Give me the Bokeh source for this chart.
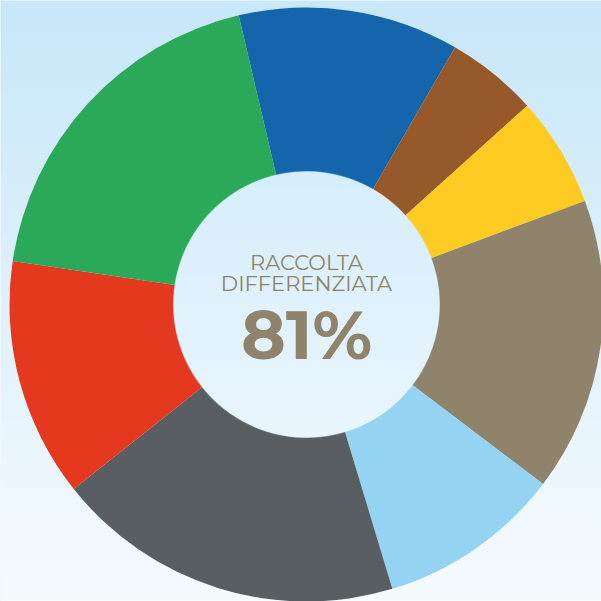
import numpy as np
from bokeh.plotting import figure
from bokeh.models import ColumnDataSource
from bokeh.core.properties import value
from bokeh.embed import file_html
from bokeh.resources import INLINE

# Data (clockwise from the top)
categories = ["Carta", "Organico", "Plastica", "Verde", "Multimateriale", "Indifferenziato", "RAEE", "Vetro"]
shares = [12, 5, 6, 16, 10, 19, 13, 19]
colors = ["#1565ad", "#97592a", "#fecb22", "#8f836b", "#94d3f2", "#595e63", "#e5391f", "#2aaa58"]
center_title = ["RACCOLTA", "DIFFERENZIATA"]
center_value = "81%"

W = H = 601
p = figure(width=W, height=H, x_range=(0, W), y_range=(0, H),
           output_backend="svg", toolbar_location=None, min_border=0)
p.axis.visible = False
p.grid.visible = False
p.outline_line_color = None
p.background_fill_color = "#e4f3fc"
p.border_fill_color = "#e4f3fc"

# background vertical gradient
n = 200
t = np.linspace(0, 1, n)[:, None]  # row 0 = bottom
top = np.array([200, 231, 249]); bot = np.array([246, 251, 255])
rgb = bot * (1 - t) + top * t
img = np.zeros((n, 1), dtype=np.uint32)
view = img.view(dtype=np.uint8).reshape((n, 1, 4))
view[:, :, 0] = rgb[:, 0:1].astype(np.uint8)
view[:, :, 1] = rgb[:, 1:2].astype(np.uint8)
view[:, :, 2] = rgb[:, 2:3].astype(np.uint8)
view[:, :, 3] = 255
p.image_rgba(image=[img], x=0, y=0, dw=W, dh=H)

cx, cy = 306, H - 304
r_out, r_in = 297, 133

total = float(sum(shares))
spans = np.array(shares) / total * 2 * np.pi
start0 = np.deg2rad(103.2)
ends_cum = np.cumsum(spans)
starts = start0 - (ends_cum - spans)
ends = start0 - ends_cum

src = ColumnDataSource(dict(cat=categories, val=shares, color=colors,
                            start=starts, end=ends))
p.annular_wedge(x=cx, y=cy, inner_radius=r_in, outer_radius=r_out,
                start_angle="start", end_angle="end", direction="clock",
                fill_color="color", line_color=None, source=src)

# inner disc with subtle gradient
m = 2 * r_in
yy, xx = np.mgrid[0:m, 0:m]
d = np.sqrt((xx + 0.5 - r_in) ** 2 + (yy + 0.5 - r_in) ** 2)
alpha = np.clip(r_in + 0.5 - d, 0, 1)
tt = (yy / (m - 1))[:, :, None]  # 0 bottom, 1 top
itop = np.array([214, 238, 251]); ibot = np.array([234, 246, 254])
irgb = ibot * (1 - tt) + itop * tt
disc = np.zeros((m, m), dtype=np.uint32)
dv = disc.view(dtype=np.uint8).reshape((m, m, 4))
dv[:, :, 0] = irgb[:, :, 0].astype(np.uint8)
dv[:, :, 1] = irgb[:, :, 1].astype(np.uint8)
dv[:, :, 2] = irgb[:, :, 2].astype(np.uint8)
dv[:, :, 3] = (alpha * 255).astype(np.uint8)
p.image_rgba(image=[disc], x=cx - r_in, y=cy - r_in, dw=m, dh=m)

txt_color = "#8f836b"
p.text(x=[cx, cx], y=[H - 262, H - 283], text=center_title,
       text_font=value("Montserrat Light, Montserrat, Open Sans"), text_font_size="21px",
       text_color=txt_color, text_align="center", text_baseline="alphabetic")
p.text(x=[cx], y=[H - 334], text=[center_value],
       text_font=value("Montserrat, Lato Black"), text_font_style="bold",
       text_font_size="68px", text_color=txt_color,
       text_align="center", text_baseline="alphabetic")

open("out.html", "w").write(file_html(p, INLINE))
